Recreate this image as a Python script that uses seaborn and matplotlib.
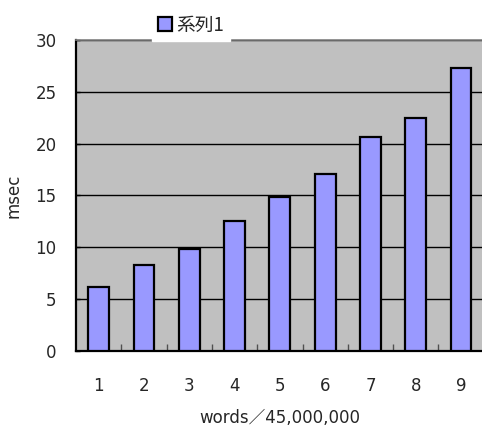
import matplotlib
matplotlib.use("Agg")
import matplotlib.pyplot as plt
import seaborn as sns
import pandas as pd
from matplotlib.ticker import MultipleLocator, FixedLocator

categories = ["1", "2", "3", "4", "5", "6", "7", "8", "9"]
values = [6.15, 8.25, 9.8, 12.5, 14.8, 17.1, 20.6, 22.5, 27.3]
series_name = "系列1"
x_label = "words／45,000,000"
y_label = "msec"

sns.set_theme(style="white")
plt.rcParams["font.family"] = ["DejaVu Sans", "Noto Sans CJK JP"]

df = pd.DataFrame({"x": categories, "y": values})

fig = plt.figure(figsize=(4.82, 4.26), dpi=100)
ax = fig.add_axes([76 / 482, 1 - 350.7 / 426, (483.7 - 76) / 482, (350.7 - 40) / 426])
ax.set_facecolor("#C0C0C0")

sns.barplot(data=df, x="x", y="y", color="#9999FF", saturation=1, width=0.46,
            edgecolor="black", linewidth=1.6, ax=ax, label=series_name, zorder=3)

ax.set_ylim(0, 30)
ax.set_xlim(-0.5, 8.5)
ax.yaxis.set_major_locator(MultipleLocator(5))
ax.set_axisbelow(True)
ax.yaxis.grid(True, color="black", linewidth=1.0)
ax.xaxis.grid(False)

for s in ["top", "right"]:
    ax.spines[s].set_color("#808080")
    ax.spines[s].set_linewidth(1.2)
for s in ["left", "bottom"]:
    ax.spines[s].set_color("black")
    ax.spines[s].set_linewidth(1.6)

ax.tick_params(axis="y", direction="in", length=3, width=1, color="black",
               labelsize=12, pad=14, left=True)
ax.tick_params(axis="x", which="major", length=0, labelsize=12, pad=19)
ax.xaxis.set_minor_locator(FixedLocator([i + 0.5 for i in range(len(categories))]))
ax.tick_params(axis="x", which="minor", direction="in", length=5, width=1,
               color="#505050", bottom=True)

ax.set_xlabel(x_label, fontsize=12, labelpad=10)
ax.set_ylabel(y_label, fontsize=12, labelpad=9)

if ax.get_legend() is not None:
    ax.get_legend().remove()
handles, labels = ax.get_legend_handles_labels()
leg = fig.legend(handles[:1], labels[:1], loc="center",
                 bbox_to_anchor=(191 / 482, 1 - 25 / 426),
                 prop={"family": ["Noto Sans CJK JP", "DejaVu Sans"], "size": 13.5},
                 frameon=True, fancybox=False,
                 facecolor="white", edgecolor="white", framealpha=1,
                 handlelength=0.75, handleheight=0.75, handletextpad=0.25,
                 borderpad=0.3, borderaxespad=0)

fig.savefig("out.png", dpi=100, facecolor="white")
